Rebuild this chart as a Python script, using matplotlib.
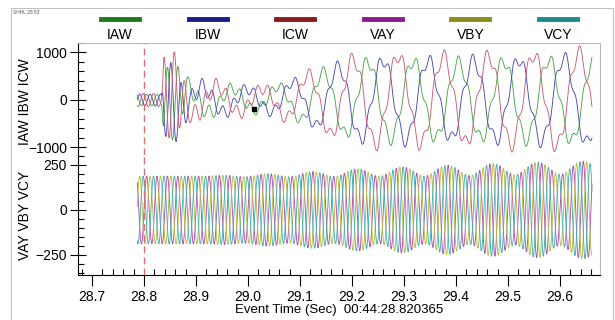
import numpy as np
import matplotlib
matplotlib.use('Agg')
import matplotlib.pyplot as plt
from matplotlib.ticker import MultipleLocator, FixedLocator

plt.rcParams['font.family'] = ['Liberation Sans', 'DejaVu Sans']

# record window (sec) and sample rate of the record
t_start, t_end = 28.787, 29.662
sample_rate = 2000.0
trigger_time = 28.8
marker_time, marker_value = 29.011, -190

legend_names = ['IAW', 'IBW', 'ICW', 'VAY', 'VBY', 'VCY']
legend_colors = ['#1f7a1f', '#1a1a8c', '#8c1a1a', '#8c1a8c', '#8c8c1a', '#1a8c8c']

# current channels: envelope knots
cur_knot_t = [28.787, 28.834, 28.838, 28.850, 28.870, 28.885, 28.95, 29.03, 29.10, 29.16, 29.22, 29.30, 29.40, 29.50, 29.662]
cur_50hz_amp = [130, 130, 820, 900, 650, 220, 140, 110, 110, 130, 150, 150, 150, 150, 150]
cur_sub_amp = [0, 0, 80, 150, 220, 300, 280, 220, 450, 700, 880, 900, 860, 900, 950]
cur_sub_freq = 11.5
cur_phase_scale = [0.92, 0.95, 1.05]   # IAW, IBW, ICW

# voltage channels: envelope knots
volt_knot_t = [28.787, 28.90, 29.00, 29.10, 29.20, 29.30, 29.40, 29.50, 29.662]
volt_50hz_amp = [188, 188, 190, 197, 207, 214, 220, 228, 236]
volt_beat_amp = [0, 0, 6, 12, 20, 26, 30, 33, 36]
volt_beat_freq = 61.5

cur_colors = ['#4aa64a', '#4a4ab4', '#cc5c76']
volt_colors = ['#ac52ac', '#bcbc44', '#42b0b0']


def three_phase(t, amp50, amp_sub, f_sub, scale):
    waves = []
    for k in range(3):
        shift = -2 * np.pi * k / 3
        w = amp50 * np.sin(2 * np.pi * 50 * t + shift) + amp_sub * np.sin(2 * np.pi * f_sub * t + shift + 0.6)
        waves.append(w * scale[k])
    return waves


t = np.arange(t_start, t_end, 1.0 / sample_rate)
cur = three_phase(t, np.interp(t, cur_knot_t, cur_50hz_amp), np.interp(t, cur_knot_t, cur_sub_amp),
                  cur_sub_freq, cur_phase_scale)
volt = three_phase(t, np.interp(t, volt_knot_t, volt_50hz_amp), np.interp(t, volt_knot_t, volt_beat_amp),
                   volt_beat_freq, [1, 1, 1])

fig = plt.figure(figsize=(6.15, 3.2), dpi=100)
W, H = 615.0, 320.0
ax1 = fig.add_axes([78 / W, 1 - 155 / H, 522 / W, 112 / H])
ax2 = fig.add_axes([78 / W, 1 - 275 / H, 522 / W, 120 / H], sharex=ax1)

for w, c in zip(cur, cur_colors):
    ax1.plot(t, w, color=c, lw=0.65)
ax1.plot([marker_time], [marker_value], 's', color='black', ms=3.5)
for w, c in zip(volt, volt_colors):
    ax2.plot(t, w, color=c, lw=0.65)

for ax in (ax1, ax2):
    ax.axvline(trigger_time, color='#e07070', lw=1.0, ls=(0, (5, 3)))
    ax.spines['left'].set_color('black')
    ax.spines['right'].set_color('#b8b8b8')
    ax.tick_params(axis='y', which='major', direction='inout', length=12, width=0.8, labelsize=10, pad=2)
    ax.tick_params(axis='y', which='minor', direction='in', length=4, width=0.8)

ax1.set_xlim(28.673, 29.677)
ax1.set_ylim(-1158, 1200)
ax1.spines['top'].set_color('#b8b8b8')
ax1.spines['bottom'].set_visible(False)
ax1.yaxis.set_major_locator(FixedLocator([-1000, 0, 1000]))
ax1.yaxis.set_minor_locator(MultipleLocator(200))
ax1.tick_params(axis='x', which='both', bottom=False, labelbottom=False)

ax2.set_ylim(-361, 305)
ax2.spines['top'].set_visible(False)
ax2.yaxis.set_major_locator(FixedLocator([-250, 0, 250]))
ax2.yaxis.set_minor_locator(MultipleLocator(50))
ax2.xaxis.set_major_locator(FixedLocator(np.round(np.arange(28.7, 29.65, 0.1), 1)))
ax2.xaxis.set_minor_locator(MultipleLocator(0.02))
ax2.xaxis.set_major_formatter(lambda v, p: '%.1f' % v)
ax2.tick_params(axis='x', which='major', direction='out', length=8, width=0.8, labelsize=10, pad=3)
ax2.tick_params(axis='x', which='minor', direction='in', length=4, width=0.8)
ax2.set_xlabel('Event Time (Sec)  00:44:28.820365', fontsize=9.5, labelpad=0)

fig.text(25 / W, 1 - 102 / H, 'IAW IBW ICW', rotation=90, ha='center', va='center', fontsize=10)
fig.text(25 / W, 1 - 215 / H, 'VAY VBY VCY', rotation=90, ha='center', va='center', fontsize=10)

# legend row above the plot
for i, (name, c) in enumerate(zip(legend_names, legend_colors)):
    cx = 120 + 87.6 * i
    fig.add_artist(plt.Line2D([(cx - 19) / W, (cx + 19) / W], [1 - 19 / H, 1 - 19 / H], color=c, lw=3.5))
    fig.text(cx / W, 1 - 35 / H, name, ha='center', va='center', fontsize=10)

# outer frame and small header
fig.add_artist(plt.Line2D([11 / W, 11 / W, 613 / W, 613 / W], [0, 1 - 8 / H, 1 - 8 / H, 0], color='#c0c0c0', lw=0.8))
fig.text(13 / W, 1 - 13 / H, 'SHHL 28:53', fontsize=3.5, color='#555555', va='center')

fig.savefig('out.png', dpi=100)
